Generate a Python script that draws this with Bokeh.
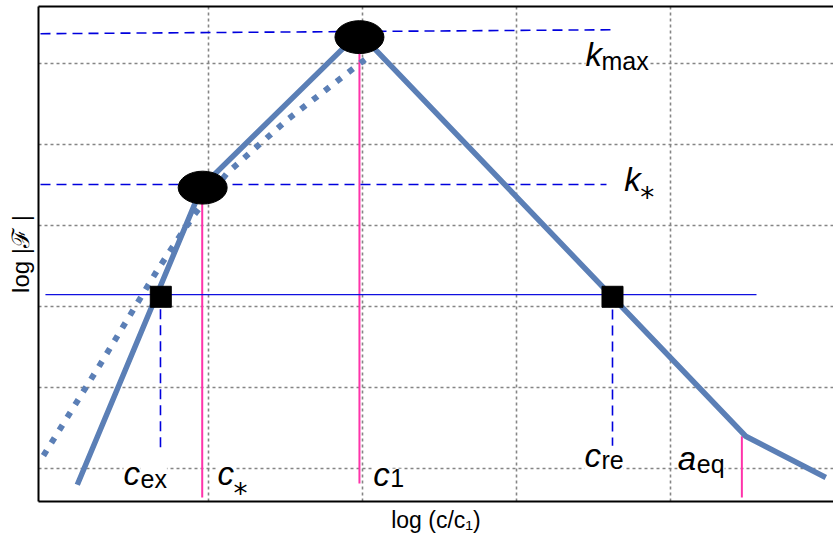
from bokeh.plotting import figure
from bokeh.models import Range1d, FixedTicker, LinearAxis, Label
from bokeh.embed import file_html
from bokeh.resources import INLINE

# ---------------- data (log units) ----------------
grid_x = [1, 2, 3, 4]
grid_y = [0, 1, 2, 3, 4, 5]

solid_x = [0.15, 0.96, 1.98, 4.49, 5.01]
solid_y = [-0.20, 3.48, 5.38, 0.40, -0.11]

dotted_x = [-0.07, 0.30, 0.67, 0.90, 1.12, 1.51, 2.04]
dotted_y = [0.16, 1.29, 2.45, 3.11, 3.64, 4.30, 5.08]

ell_x = [0.964, 1.982]          # k_*, k_max
ell_y = [3.467, 5.324]

sq_x = [0.692, 3.625]           # c_ex, c_re
sq_y = [2.12, 2.12]

level_y = 2.147
level_x0, level_x1 = -0.057, 4.56

kmax_x = [-0.089, 3.612]
kmax_y = [5.366, 5.415]
kstar_x = [-0.089, 3.586]
kstar_y = [3.506, 3.506]

mag_x = [0.961, 1.982, 4.465]   # c_*, c_1, a_eq
mag_top = [3.47, 5.32, 0.398]
mag_bot = [-0.357, -0.185, -0.357]

vd_x = [0.690, 3.625]           # c_ex, c_re
vd_top = [2.12, 2.12]
vd_bot = [0.262, 0.259]

# label texts
lbl_main = ["c", "c", "c", "c", "a", "k", "k"]
lbl_sub = ["ex", "*", "1", "re", "eq", "max", "*"]
lbl_x = [0.450, 1.060, 2.071, 3.443, 4.049, 3.450, 3.701]
lbl_y = [-0.062, -0.062, -0.075, 0.16, 0.127, 5.114, 3.563]

x_title = "log (c/c\u2081)"
y_title = "log |\u2131 |"

# ---------------- figure ----------------
p = figure(width=833, height=535, output_backend="svg", toolbar_location=None,
           x_range=Range1d(-0.102, 5.06), y_range=Range1d(-0.406, 5.702),
           min_border_left=38, min_border_right=0, min_border_top=6,
           min_border_bottom=33)
p.outline_line_color = None
p.background_fill_color = "white"

for ax in (p.xaxis[0], p.yaxis[0]):
    ax.ticker = FixedTicker(ticks=[])
    ax.axis_line_width = 2
    ax.axis_line_color = "black"
    ax.major_tick_line_color = None
    ax.minor_tick_line_color = None
    ax.major_label_text_font_size = "0px"
    ax.axis_label_text_font = "Liberation Sans"
    ax.axis_label_text_font_style = "normal"
    ax.axis_label_text_color = "black"

p.xaxis.axis_label = x_title
p.xaxis.axis_label_text_font_size = "23px"
p.xaxis.axis_label_standoff = 5
p.yaxis.axis_label = y_title
p.yaxis.axis_label_text_font_size = "24px"
p.yaxis.axis_label_standoff = 5

top = LinearAxis(ticker=FixedTicker(ticks=[]), axis_line_width=2,
                 axis_line_color="black", major_tick_line_color=None,
                 minor_tick_line_color=None, major_label_text_font_size="0px")
p.add_layout(top, "above")

p.xgrid.ticker = FixedTicker(ticks=grid_x)
p.ygrid.ticker = FixedTicker(ticks=grid_y)
for g in (p.xgrid[0], p.ygrid[0]):
    g.grid_line_color = "#858585"
    g.grid_line_dash = "3 3"
    g.grid_line_width = 1.6

# magenta verticals
p.segment(x0=mag_x, y0=mag_bot, x1=mag_x, y1=mag_top,
          line_color="#ff33aa", line_width=2)

# blue dashed guides
p.line(kmax_x, kmax_y, line_color="#0000dd", line_width=1.6, line_dash="10 6")
p.line(kstar_x, kstar_y, line_color="#0000dd", line_width=1.6, line_dash="10 6")
p.segment(x0=vd_x, y0=vd_bot, x1=vd_x, y1=vd_top,
          line_color="#0000dd", line_width=1.6, line_dash="10 6")

# curves
p.line(dotted_x, dotted_y, line_color="#5b7fb6", line_width=6,
       line_dash="6 9", line_cap="butt")
p.line(solid_x, solid_y, line_color="#5b7fb6", line_width=5.5,
       line_join="miter")

# level line
p.line([level_x0, level_x1], [level_y, level_y], line_color="#1010e0",
       line_width=1.4)

# markers
p.ellipse(x=ell_x, y=ell_y, width=0.318, height=0.406,
          fill_color="black", line_color="black")
p.scatter(x=sq_x, y=sq_y, marker="square", size=21,
          fill_color="black", line_color="black")

# ---------------- labels ----------------
FONT = "Liberation Sans"
sub_dx = [17, 16, 17, 17, 19, 16, 16]
sub_dy = [-5, -20, -3, -4, -6, -7, -18]
for t, s, x, y, dx, dy in zip(lbl_main, lbl_sub, lbl_x, lbl_y, sub_dx, sub_dy):
    star = s == "*"
    p.add_layout(Label(x=x, y=y, x_offset=dx, y_offset=dy, text=s,
                       text_font="DejaVu Sans" if star else FONT,
                       text_font_size="28px" if star else "25px",
                       text_color="black",
                       text_baseline="alphabetic", text_align="left",
                       background_fill_color=None if star else "white"))
for t, s, x, y in zip(lbl_main, lbl_sub, lbl_x, lbl_y):
    p.add_layout(Label(x=x, y=y, text=t, text_font=FONT,
                       text_font_style="italic", text_font_size="33px",
                       text_color="black",
                       text_baseline="alphabetic", text_align="left",
                       background_fill_color="white"))

open("out.html", "w").write(file_html(p, INLINE))
